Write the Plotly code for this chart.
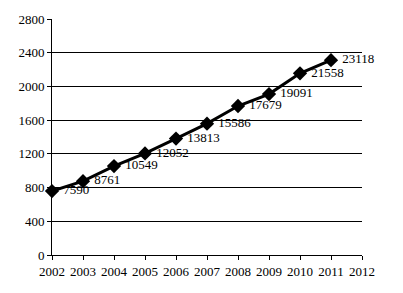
import plotly.graph_objects as go

years = [2002, 2003, 2004, 2005, 2006, 2007, 2008, 2009, 2010, 2011]
labels = [7590, 8761, 10549, 12052, 13813, 15586, 17679, 19091, 21558, 23118]
values = [v / 10 for v in labels]
y_ticks = [0, 400, 800, 1200, 1600, 2000, 2400, 2800]
x_ticks = list(range(2002, 2013))

fig = go.Figure()
fig.add_trace(go.Scatter(
    x=years, y=values, mode="lines+markers+text",
    text=[" " + str(v) for v in labels],
    textposition="middle right",
    textfont=dict(family="Liberation Serif", size=13, color="black"),
    line=dict(color="black", width=3),
    marker=dict(symbol="diamond", size=11, color="black"),
    cliponaxis=False,
))
fig.update_layout(
    width=403, height=293,
    margin=dict(l=52, r=41, t=13, b=38),
    paper_bgcolor="white", plot_bgcolor="white",
    showlegend=False,
    font=dict(family="Liberation Serif", size=13, color="black"),
)
fig.update_xaxes(
    range=[2002, 2012], tickvals=x_ticks, showgrid=False,
    showline=True, linecolor="black", linewidth=1,
    ticks="outside", ticklen=4, tickcolor="black", zeroline=False,
)
fig.update_yaxes(
    range=[0, 2800], tickvals=y_ticks, showgrid=True, gridcolor="black", gridwidth=1,
    showline=True, linecolor="black", linewidth=1,
    ticks="outside", ticklen=4, tickcolor="black", zeroline=False,
)
fig.write_html("out.html", config={"displayModeBar": False},
               post_script="document.body.style.margin='0';")
